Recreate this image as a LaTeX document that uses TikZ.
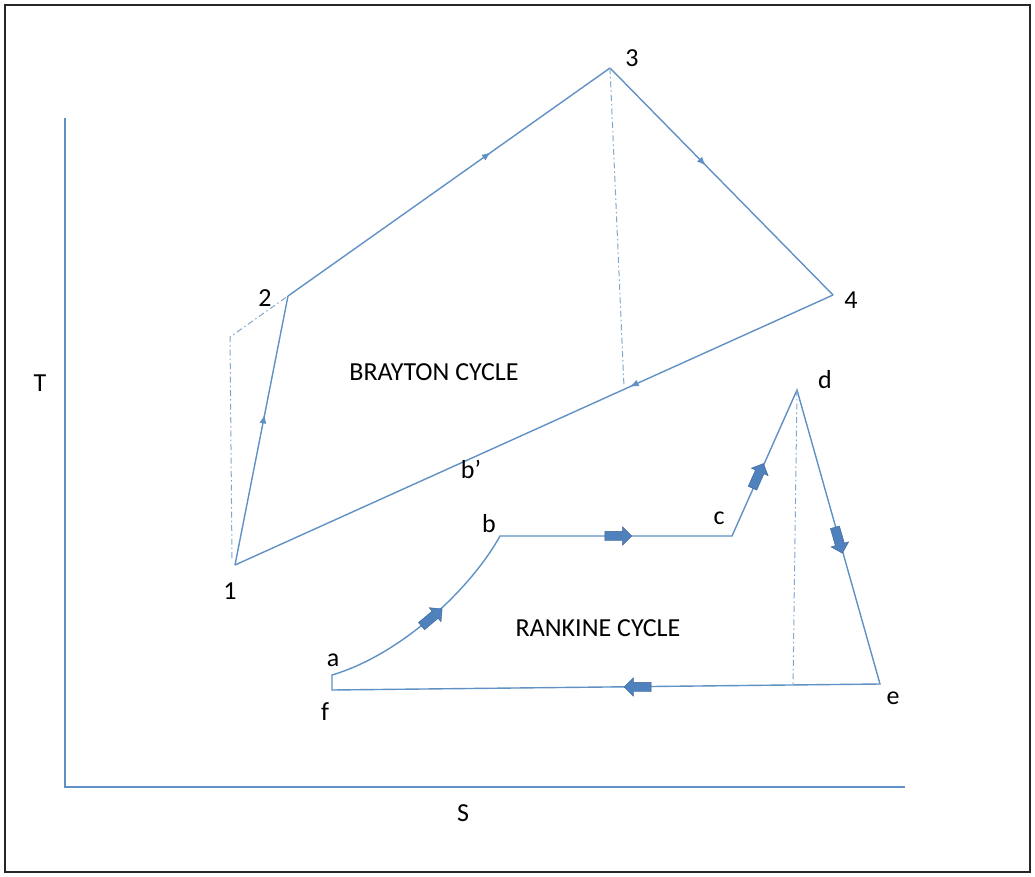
\documentclass[tikz,border=0pt]{standalone}
\usepackage{fontspec}
\setmainfont{Carlito}
\usetikzlibrary{arrows.meta,decorations.markings,shapes.arrows}
\definecolor{linec}{RGB}{96,145,196}
\definecolor{blockc}{RGB}{79,129,189}
\definecolor{blockd}{RGB}{60,100,150}
\tikzset{
  cyc/.style={draw=linec, line width=1.4pt, line join=miter},
  guide/.style={draw=linec!80, line width=1pt, dash pattern=on 6pt off 3pt on 1.5pt off 3pt},
  axisline/.style={draw=linec, line width=1.4pt},
  lbl/.style={font=\fontsize{26}{29}\selectfont, text=black, inner sep=1pt},
  midarr/.style={postaction={decorate}, decoration={markings, mark=at position #1 with {\arrow[linec]{Latex[length=9pt,width=7pt]}}}},
  blockarrow/.style={single arrow, fill=blockc, draw=blockd, line width=0.4pt, minimum height=27pt, minimum width=18pt, single arrow head extend=4.5pt, inner sep=4.5pt},
}
\begin{document}
\begin{tikzpicture}[x=1pt,y=-1pt]
\useasboundingbox (0,0) rectangle (1035,877);
\draw[black!85, line width=1.5pt] (5,5) rectangle (1030,872);
% axes
\coordinate (ytop) at (65,118);
\coordinate (orig) at (65,787);
\coordinate (xend) at (905,787);
\draw[axisline] (ytop) -- (orig) -- (xend);
\node[lbl] (T) at (40,383) {T};
\node[lbl] (S) at (463,813) {S};
% Brayton
\coordinate (p1) at (235,565);
\coordinate (p2) at (288,296);
\coordinate (p3) at (610,68);
\coordinate (p4) at (833,295);
\coordinate (g1) at (230,337);
\coordinate (g1b) at (232,558);
\coordinate (b3) at (624,387);
\draw[cyc, midarr=0.56] (p1) -- (p2);
\draw[cyc, midarr=0.63] (p2) -- (p3);
\draw[cyc, midarr=0.43] (p3) -- (p4);
\draw[cyc, midarr=0.34] (p4) -- (p1);
\draw[guide] (g1b) -- (g1) -- (p2);
\draw[guide] (p3) -- (b3);
\node[lbl] (l1) at (230,591) {1};
\node[lbl] (l2) at (265,298) {2};
\node[lbl] (l3) at (632,58) {3};
\node[lbl] (l4) at (851,300) {4};
\node[lbl] (lb) at (471,469) {b’};
\node[lbl] (brayton) at (434,372) {BRAYTON CYCLE};
% Rankine
\coordinate (f) at (332,690);
\coordinate (a) at (332,675);
\coordinate (b) at (500,536);
\coordinate (c) at (732,536);
\coordinate (d) at (797,390);
\coordinate (e) at (880,684);
\coordinate (gd) at (793,686);
\draw[cyc] (f) -- (a) .. controls (400,655) and (470,590) .. (b) -- (c) -- (d) -- (e) -- cycle;
\draw[guide] (d) -- (gd);
\node[blockarrow, rotate=40] (ar1) at (430,619) {};
\node[blockarrow] (ar2) at (616,536) {};
\node[blockarrow, rotate=66] (ar3) at (757,478) {};
\node[blockarrow, rotate=-74] (ar4) at (838,538) {};
\node[blockarrow, rotate=180] (ar5) at (640,687) {};
\node[lbl] (la) at (333,660) {a};
\node[lbl] (lbb) at (489,524) {b};
\node[lbl] (lc) at (719,518) {c};
\node[lbl] (ld) at (825,380) {d};
\node[lbl] (le) at (893,698) {e};
\node[lbl] (lf) at (325,712) {f};
\node[lbl] (rankine) at (598,628) {RANKINE CYCLE};
\end{tikzpicture}
\end{document}
